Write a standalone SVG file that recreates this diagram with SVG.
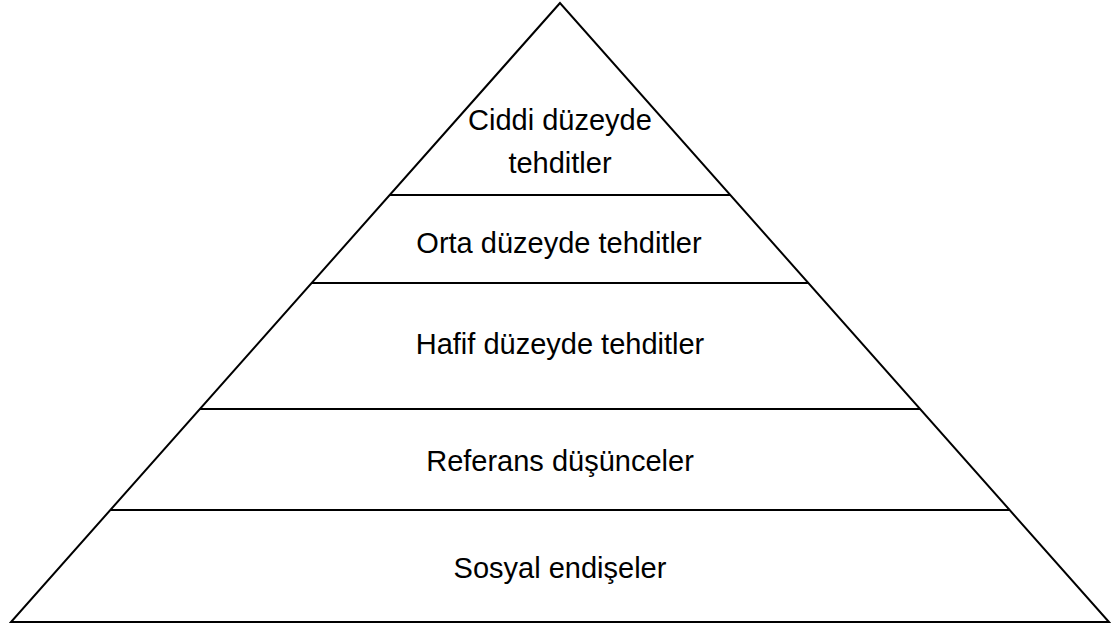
<svg xmlns="http://www.w3.org/2000/svg" width="1115" height="626" viewBox="0 0 1115 626">
<style>
.edge{stroke:#000;stroke-width:2;fill:none;stroke-linejoin:miter}
.lbl{font-family:"Liberation Sans",Arial,sans-serif;font-size:29px;fill:#000;text-anchor:middle}
</style>
<rect width="1115" height="626" fill="#fff"/>
<g id="pyramid">
<polygon class="edge" points="560,3 11,622 1109,622"/>
</g>
<g id="connectors">
<line class="edge" x1="389.7" y1="195" x2="730.3" y2="195"/>
<line class="edge" x1="311.7" y1="283" x2="808.3" y2="283"/>
<line class="edge" x1="199.9" y1="409" x2="920.1" y2="409"/>
<line class="edge" x1="110.3" y1="510" x2="1009.7" y2="510"/>
</g>
<g id="level1"><text class="lbl" x="560" y="129.5">Ciddi düzeyde</text><text class="lbl" x="560" y="172.5">tehditler</text></g>
<g id="level2"><text class="lbl" x="559" y="252.5">Orta düzeyde tehditler</text></g>
<g id="level3"><text class="lbl" x="560" y="354">Hafif düzeyde tehditler</text></g>
<g id="level4"><text class="lbl" x="560" y="471">Referans düşünceler</text></g>
<g id="level5"><text class="lbl" x="560" y="578">Sosyal endişeler</text></g>
</svg>
